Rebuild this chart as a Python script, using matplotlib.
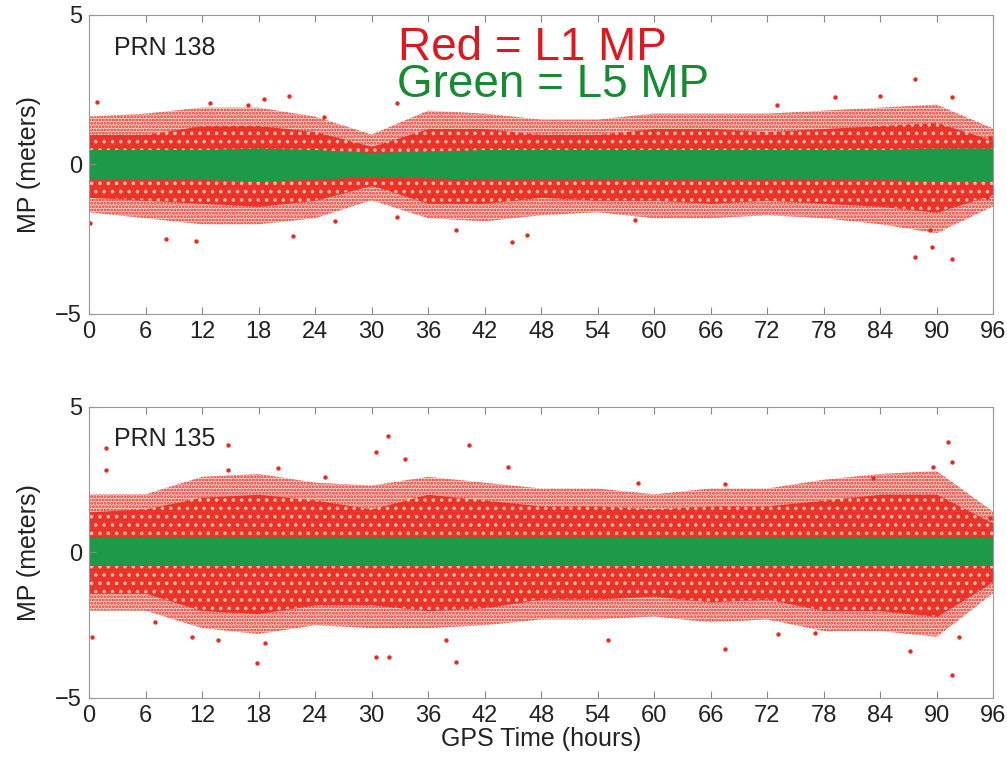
import matplotlib
matplotlib.use('Agg')
import matplotlib.pyplot as plt

plt.rcParams['font.family'] = ['Liberation Sans', 'DejaVu Sans']
plt.rcParams['hatch.linewidth'] = 1.4

# envelope at 6-hour steps (meters)
hours = [0, 6, 12, 18, 24, 30, 36, 42, 48, 54, 60, 66, 72, 78, 84, 90, 96]

# PRN 138
p138_green_hi = [0.5, 0.5, 0.5, 0.55, 0.5, 0.4, 0.45, 0.5, 0.5, 0.5, 0.5, 0.5, 0.5, 0.5, 0.5, 0.55, 0.55]
p138_green_lo = [-0.5, -0.5, -0.5, -0.55, -0.5, -0.4, -0.45, -0.5, -0.5, -0.5, -0.5, -0.5, -0.5, -0.5, -0.5, -0.55, -0.55]
p138_core_hi = [1.0, 1.0, 1.3, 1.3, 1.1, 0.6, 1.2, 1.2, 1.0, 1.0, 1.2, 1.2, 1.1, 1.2, 1.3, 1.4, 0.8]
p138_core_lo = [-1.1, -1.2, -1.3, -1.4, -1.2, -0.7, -1.3, -1.3, -1.1, -1.2, -1.2, -1.3, -1.2, -1.3, -1.4, -1.6, -1.0]
p138_sparse_hi = [1.6, 1.7, 1.9, 1.9, 1.6, 1.0, 1.8, 1.7, 1.5, 1.5, 1.7, 1.7, 1.7, 1.8, 1.9, 2.0, 1.2]
p138_sparse_lo = [-1.6, -1.8, -2.0, -2.0, -1.8, -1.2, -1.8, -1.9, -1.7, -1.6, -1.8, -1.8, -1.7, -1.8, -2.0, -2.3, -1.4]
p138_out_t = [0.8, 8.2, 11.4, 18.6, 21.2, 21.7, 16.9, 12.8, 32.7, 32.7, 39.0, 26.1, 24.9, 0.1,
              87.7, 87.7, 91.6, 89.5, 44.9, 46.5, 73.0, 79.2, 91.6, 84.0, 58.0, 95.3, 95.6, 89.3]
p138_out_mp = [2.1, -2.5, -2.55, 2.2, 2.3, -2.4, 2.0, 2.05, 2.05, -1.75, -2.2, -1.9, 1.6, -1.95,
               2.85, -3.1, -3.15, -2.75, -2.6, -2.35, 2.0, 2.25, 2.25, 2.3, -1.85, -1.1, 0.9, -2.2]

# PRN 135
p135_green_hi = [0.5, 0.5, 0.5, 0.5, 0.5, 0.5, 0.5, 0.5, 0.5, 0.5, 0.5, 0.5, 0.5, 0.5, 0.5, 0.5, 0.5]
p135_green_lo = [-0.45, -0.45, -0.45, -0.45, -0.45, -0.45, -0.45, -0.45, -0.45, -0.45, -0.45, -0.45, -0.45, -0.45, -0.45, -0.45, -0.45]
p135_core_hi = [1.4, 1.5, 1.9, 2.0, 1.8, 1.5, 2.0, 1.8, 1.6, 1.6, 1.5, 1.6, 1.6, 1.8, 2.0, 2.0, 1.0]
p135_core_lo = [-1.4, -1.4, -2.0, -2.1, -1.8, -1.8, -2.0, -1.9, -1.6, -1.6, -1.5, -1.7, -1.6, -2.0, -2.0, -2.2, -1.0]
p135_sparse_hi = [2.0, 2.0, 2.6, 2.7, 2.4, 2.3, 2.6, 2.4, 2.2, 2.2, 2.0, 2.2, 2.2, 2.5, 2.7, 2.8, 1.4]
p135_sparse_lo = [-2.0, -2.0, -2.6, -2.8, -2.5, -2.6, -2.6, -2.5, -2.3, -2.3, -2.2, -2.4, -2.3, -2.7, -2.7, -2.9, -1.4]
p135_out_t = [1.8, 1.8, 0.3, 14.8, 14.8, 20.1, 17.8, 31.7, 30.5, 30.5, 31.8, 40.3, 39.0, 37.9, 10.9, 13.7,
              18.7, 7.0, 33.5, 25.0, 91.2, 91.6, 91.6, 87.2, 67.5, 44.5, 58.3, 67.5, 55.1, 73.1, 89.6,
              83.2, 77.1, 92.4, 95.6, 95.6]
p135_out_mp = [3.6, 2.85, -2.9, 3.7, 2.85, 2.9, -3.8, 4.0, 3.45, -3.6, -3.6, 3.7, -3.75, -3.0, -2.9, -3.0,
               -3.1, -2.4, 3.2, 2.6, 3.8, 3.1, -4.2, -3.4, -3.3, 2.95, 2.4, 2.35, -3.0, -2.8, 2.95,
               2.55, -2.75, -2.9, 1.2, -0.95]

RED = '#ea2a1f'
GREEN = '#1c9a4a'

fig = plt.figure(figsize=(10.07, 7.63), dpi=100)
ax1 = fig.add_axes([0.0884, 0.5885, 0.898, 0.392])
ax2 = fig.add_axes([0.0884, 0.0852, 0.898, 0.3814])

panels = [
    (ax1, 'PRN 138', p138_green_hi, p138_green_lo, p138_core_hi, p138_core_lo,
     p138_sparse_hi, p138_sparse_lo, p138_out_t, p138_out_mp),
    (ax2, 'PRN 135', p135_green_hi, p135_green_lo, p135_core_hi, p135_core_lo,
     p135_sparse_hi, p135_sparse_lo, p135_out_t, p135_out_mp),
]

for ax, prn, g_hi, g_lo, c_hi, c_lo, s_hi, s_lo, out_t, out_mp in panels:
    # sparse outer cloud: speckle via dotted hatch
    ax.fill_between(hours, s_lo, s_hi, facecolor='#fbd3cc', edgecolor=RED, hatch='.....', lw=0)
    # dense inner cloud: solid red with light speckle
    ax.fill_between(hours, c_lo, c_hi, color=RED, alpha=0.9, lw=0)
    ax.fill_between(hours, c_lo, c_hi, facecolor='none', edgecolor='#f7b8a8', hatch='..', lw=0)
    ax.scatter(out_t, out_mp, s=10, color=RED, lw=0)
    ax.fill_between(hours, g_lo, g_hi, color=GREEN, lw=0)
    ax.set_xlim(0, 96)
    ax.set_ylim(-5, 5)
    ax.set_xticks(range(0, 97, 6))
    ax.set_yticks([-5, 0, 5])
    ax.tick_params(direction='in', top=True, right=False, labelsize=17,
                   color='#888888', length=5, pad=5, labelcolor='#222222')
    for sp in ax.spines.values():
        sp.set_color('#999999')
    ax.set_ylabel('MP (meters)', fontsize=18, labelpad=10, color='#222222')
    ax.text(0.028, 0.93, prn, transform=ax.transAxes, fontsize=18,
            ha='left', va='top', color='#222222')

ax1.text(32.8, 3.5, 'Red = L1 MP', fontsize=33, color='#dc1820', ha='left', va='baseline')
ax1.text(32.7, 2.26, 'Green = L5 MP', fontsize=33, color='#168c32', ha='left', va='baseline')
ax2.set_xlabel('GPS Time (hours)', fontsize=18, labelpad=0, color='#222222')

fig.savefig('out.png', dpi=100)
